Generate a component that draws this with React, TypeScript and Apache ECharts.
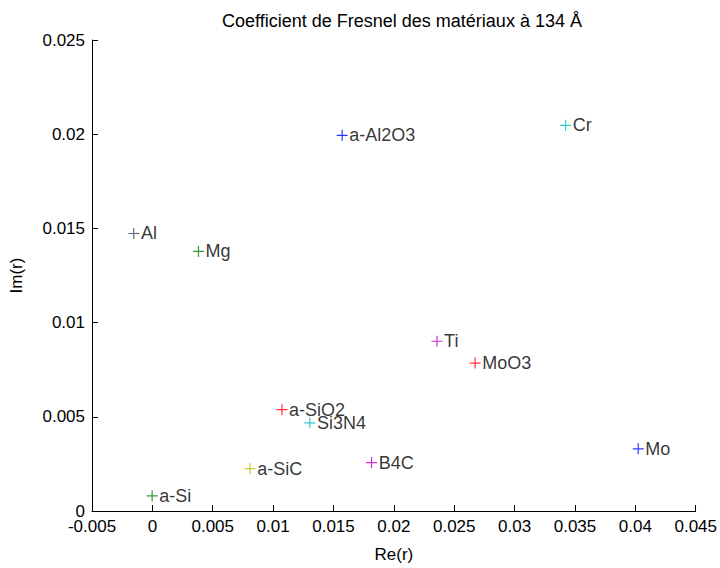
import React, { useEffect, useRef } from "react";
import * as echarts from "echarts";

const materials = ["Al", "Mg", "a-Al2O3", "Cr", "Ti", "MoO3", "Mo", "a-SiO2", "Si3N4", "a-SiC", "B4C", "a-Si"];
const reValues = [-0.00154, 0.00382, 0.01572, 0.03422, 0.02357, 0.02673, 0.04024, 0.01073, 0.01304, 0.00809, 0.01815, -0.00002];
const imValues = [0.01473, 0.01378, 0.01994, 0.02047, 0.00901, 0.00785, 0.0033, 0.00538, 0.00468, 0.00225, 0.00257, 0.0008];
const xTicks = { min: -0.005, max: 0.045, interval: 0.005 };
const yTicks = { min: 0, max: 0.025, interval: 0.005 };

const markerColors = [
  "#404040", "#008000", "#0000ff", "#00bfbf", "#bf00bf", "#ff0000",
  "#0000ff", "#ff0000", "#00bfbf", "#bfbf00", "#bf00bf", "#008000",
];

const FONT = "'Liberation Sans', Arial, Helvetica, sans-serif";

export default function App() {
  const ref = useRef<HTMLDivElement>(null);
  useEffect(() => {
    if (!ref.current) return;
    const chart = echarts.init(ref.current, null, { renderer: "svg" });
    const data = materials.map((name, i) => ({
      name,
      value: [reValues[i], imValues[i]],
      itemStyle: { color: "transparent", borderColor: markerColors[i], borderWidth: 1.2 },
    }));
    chart.setOption({
      animation: false,
      backgroundColor: "#ffffff",
      textStyle: { fontFamily: FONT },
      title: {
        text: "Coefficient de Fresnel des matériaux à 134 Å",
        left: 397,
        top: 7,
        textAlign: "center",
        textStyle: { fontFamily: FONT, fontSize: 18, fontWeight: "normal", color: "#000" },
      },
      grid: { left: 90, right: 24, top: 40, bottom: 51, containLabel: false },
      xAxis: {
        type: "value",
        min: xTicks.min,
        max: xTicks.max,
        interval: xTicks.interval,
        name: "Re(r)",
        nameLocation: "middle",
        nameGap: 35,
        nameTextStyle: { fontFamily: FONT, fontSize: 17, color: "#000" },
        axisLine: { show: true, onZero: false, lineStyle: { color: "#000", width: 1 } },
        axisTick: { show: true, inside: true, length: 6, lineStyle: { color: "#000" } },
        axisLabel: { fontFamily: FONT, fontSize: 17, color: "#000", margin: 7 },
        splitLine: { show: false },
      },
      yAxis: {
        type: "value",
        min: yTicks.min,
        max: yTicks.max,
        interval: yTicks.interval,
        name: "Im(r)",
        nameLocation: "middle",
        nameGap: 67,
        nameRotate: 90,
        nameTextStyle: { fontFamily: FONT, fontSize: 17, color: "#000" },
        axisLine: { show: true, onZero: false, lineStyle: { color: "#000", width: 1 } },
        axisTick: { show: true, inside: true, length: 6, lineStyle: { color: "#000" } },
        axisLabel: { fontFamily: FONT, fontSize: 17, color: "#000", margin: 7 },
        splitLine: { show: false },
      },
      series: [
        {
          type: "scatter",
          symbol: "path://M0,5H10M5,0V10",
          symbolSize: 11,
          data,
          label: {
            show: true,
            position: "right",
            distance: 1,
            formatter: "{b}",
            fontFamily: FONT,
            fontSize: 18,
            color: "#000",
          },
          emphasis: { disabled: true },
        },
      ],
    });
    return () => chart.dispose();
  }, []);
  return <div ref={ref} style={{ position: "absolute", left: 0, top: 0, width: 720, height: 568 }} />;
}
